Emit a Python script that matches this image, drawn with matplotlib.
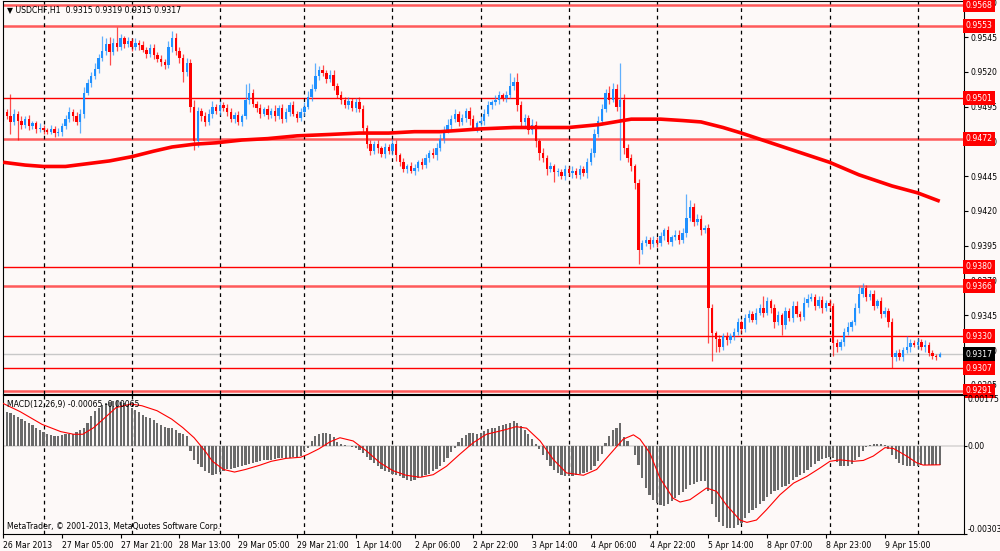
import matplotlib
matplotlib.use("Agg")
import matplotlib.pyplot as plt
import numpy as np

# USDCHF H1 closes, in pips (x 0.0001)
closes_pips = [
    9491,
    9488, 9484, 9490, 9485, 9482, 9486, 9481, 9483, 9479, 9480, 9478,
    9477, 9479, 9476, 9477, 9481, 9486, 9491, 9488, 9484, 9490, 9505, 9512,
    9517, 9522, 9530, 9535, 9540, 9534, 9541, 9538, 9544, 9540, 9542, 9538, 9541, 9539,
    9536, 9533, 9537, 9532, 9529, 9527, 9525, 9538, 9544, 9535, 9530, 9520, 9526,
    9495, 9470, 9492, 9488, 9484, 9490, 9495, 9492, 9496, 9494, 9491,
    9486, 9489, 9484, 9488, 9500, 9505, 9497, 9494, 9490, 9493, 9489,
    9492, 9488, 9494, 9486, 9491, 9496, 9490, 9487, 9491, 9495, 9502, 9508,
    9517, 9521, 9519, 9515, 9518, 9510, 9503, 9500, 9496, 9499, 9494, 9498, 9493,
    9480, 9468, 9463, 9468, 9465, 9461, 9466, 9463, 9468, 9460,
    9455, 9450, 9452, 9449, 9451, 9455, 9453, 9458, 9462, 9460, 9465,
    9472, 9478, 9482, 9486, 9490, 9484, 9487, 9492, 9486, 9480, 9483,
    9485, 9490, 9496, 9498,
    9500, 9503, 9501, 9503, 9510, 9513, 9496, 9484, 9487, 9478, 9482,
    9470, 9462, 9458, 9450, 9452, 9448, 9448, 9445, 9450, 9447, 9449, 9446, 9450,
    9447, 9455, 9462, 9475, 9485, 9493, 9505, 9500, 9508, 9495, 9500, 9465, 9458,
    9452, 9440, 9392, 9397, 9399, 9396, 9399, 9397,
    9402, 9406, 9398, 9401, 9403, 9399, 9404, 9415, 9423, 9412, 9414, 9406, 9408,
    9350, 9332, 9328, 9322, 9330, 9327, 9330, 9333,
    9340, 9335, 9343, 9346, 9342, 9347, 9350, 9347, 9355, 9350, 9340, 9345, 9338,
    9348, 9343, 9352, 9346, 9344, 9354, 9357, 9358, 9352, 9356, 9350, 9354, 9352,
    9325, 9322, 9326, 9333, 9337, 9340, 9350, 9360, 9365, 9358, 9360,
    9352, 9355, 9346, 9348, 9340, 9315, 9318, 9315, 9320,
    9322, 9325, 9324, 9326, 9322, 9324, 9318, 9316, 9315, 9317,
]
first_open_pips = 9488

# upper / lower shadows, in pips
wick_up = [
    3, 2, 16, 3, 2, 3, 2, 3, 2, 2, 3, 2, 2, 3, 2, 3,
    2, 3, 4, 2, 3, 3, 4, 3, 3, 4, 3, 11, 4, 5, 3, 11,
    3, 2, 3, 2, 3, 2, 3, 2, 3, 3, 2, 3, 2, 4, 5, 4,
    3, 3, 4, 3, 5, 3, 2, 3, 3, 4, 2, 3, 2, 3, 3, 2,
    3, 2, 11, 7, 3, 2, 3, 2, 3, 2, 4, 2, 3, 3, 2, 3,
    2, 3, 3, 4, 3, 9, 3, 4, 2, 3, 3, 2, 3, 2, 3, 2,
    3, 4, 3, 2, 3, 2, 3, 2, 3, 2, 4, 3, 2, 3, 2, 3,
    3, 2, 3, 3, 2, 3, 4, 3, 3, 4, 3, 3, 2, 3, 2, 3,
    3, 2, 3, 3, 3, 2, 3, 3, 2, 3, 9, 3, 6, 3, 3, 2,
    4, 3, 2, 3, 2, 3, 2, 3, 2, 3, 2, 3, 2, 3, 2, 3,
    3, 4, 3, 4, 3, 5, 4, 3, 26, 4, 3, 3, 2, 3, 2, 3,
    2, 3, 2, 3, 2, 3, 2, 3, 3, 4, 17, 5, 3, 4, 3, 2,
    3, 3, 2, 3, 2, 3, 2, 3, 3, 2, 3, 3, 2, 3, 3, 9,
    3, 2, 3, 3, 2, 3, 2, 3, 3, 2, 4, 3, 3, 2, 3, 3,
    2, 3, 2, 3, 2, 3, 3, 2, 4, 6, 3, 2, 3, 3, 2, 3,
    3, 2, 3, 2, 3, 2, 8, 3, 2, 3, 2, 3, 2, 2, 1, 2,
]
wick_dn = [
    3, 2, 9, 2, 14, 3, 2, 3, 2, 3, 2, 3, 2, 2, 3, 2,
    3, 2, 2, 3, 2, 8, 3, 2, 3, 2, 3, 2, 3, 9, 2, 3,
    2, 3, 2, 3, 2, 3, 2, 3, 2, 3, 2, 3, 3, 2, 4, 3,
    4, 7, 3, 4, 6, 4, 3, 3, 2, 3, 2, 3, 2, 3, 2, 3,
    2, 3, 2, 3, 2, 3, 3, 2, 3, 2, 3, 2, 3, 2, 3, 2,
    3, 2, 3, 2, 3, 2, 3, 2, 3, 2, 3, 2, 3, 2, 3, 2,
    3, 2, 4, 3, 3, 2, 3, 2, 3, 2, 3, 4, 3, 2, 3, 2,
    3, 2, 3, 2, 3, 2, 3, 2, 3, 2, 3, 2, 3, 2, 3, 4,
    2, 3, 2, 3, 2, 3, 2, 3, 2, 3, 2, 3, 4, 3, 4, 3,
    3, 4, 5, 3, 4, 2, 7, 3, 2, 3, 2, 3, 2, 3, 2, 3,
    2, 3, 2, 3, 2, 3, 2, 3, 38, 4, 3, 3, 4, 10, 3, 2,
    3, 2, 3, 2, 3, 2, 3, 2, 3, 2, 3, 2, 3, 2, 3, 2,
    25, 20, 9, 3, 2, 3, 2, 3, 2, 3, 2, 3, 2, 3, 2, 3,
    2, 3, 4, 2, 7, 3, 2, 3, 2, 3, 2, 3, 2, 3, 2, 3,
    2, 3, 9, 3, 2, 3, 2, 3, 2, 3, 2, 3, 2, 3, 2, 3,
    2, 3, 8, 3, 2, 3, 2, 3, 2, 3, 2, 3, 2, 2, 2, 0,
]

# MACD(12,26,9) main line (histogram), x 1e-5
macd_hist = [
    122,
    118, 113, 107, 100, 92, 86, 78, 71, 63, 56, 49, 42, 38, 34,
    34, 38, 40, 40, 42, 49, 54, 63, 80, 103, 121, 132, 141, 146,
    150, 153, 153, 150, 146, 141, 132, 123, 115, 107, 100, 95, 88,
    80, 72, 65, 63, 61, 54, 46, 42, 34,
    -18, -47, -62, -73, -85, -93, -99, -96, -90,
    -85, -81, -78, -76, -73, -70, -66, -62, -58, -55, -53, -50, -48, -47,
    -44, -43, -41, -41, -41, -39, -39, -35, -18, -6, 17, 34,
    40, 46, 46, 42, 32, 14, 6, 2, -1, -3,
    -6, -14, -25, -38, -50, -60, -70, -78, -85, -90,
    -95, -100, -105, -110, -116, -120, -118, -112, -106, -101,
    -95, -88, -80, -70, -55, -40, -22, -8, 12, 28,
    38, 44, 46, 42, 46, 52, 58, 60,
    63, 68, 72, 76, 80, 84, 78, 70, 55, 42,
    25, 8, -10, -30, -50, -68, -82, -92, -100, -105,
    -105, -103, -99, -96, -94, -90, -82, -70, -52, -28,
    10, 35, 55, 63, 78, 31, 17, -1, -30, -66,
    -110, -145, -168, -185, -197, -203, -205, -200, -191, -180,
    -170, -160, -148, -136, -130, -124, -120, -122, -156, -200,
    -243, -262, -275, -282, -284, -281, -272, -264, -248, -232,
    -220, -212, -200, -188, -175, -165, -156, -150, -143, -138,
    -130, -118, -108, -100, -92, -82, -72, -62, -52, -44,
    -40, -39, -41, -55, -68, -70, -68, -62, -50, -38,
    -16, -4, 4, 6, 8, 7, 2, -12, -30, -45,
    -58, -66, -68, -68, -68, -68, -67, -67, -66, -65, -65, -65,
]

# signal line, read at points (bar, x 1e-5)
signal_bars = [0, 4.6, 10.6, 15.7, 19.2, 21.7, 24.7, 27.8, 30.8, 34.8, 37.8, 41.9,
               45.9, 48.9, 52, 55, 57, 60, 63, 66, 70, 73, 77, 81, 83, 86, 89,
               91.7, 95.3, 99, 102.6, 106.1, 109.7, 113.6, 117.1, 120.7, 124.3,
               128, 131.6, 136.2, 139.7, 142.5, 146.2, 149.8, 153.4, 158, 161.6,
               165.2, 168.8, 171.6, 173.4, 176.1, 178.8, 182.4, 184.3, 187, 191.5,
               194.2, 196.9, 200.6, 202.5, 205.1, 207.8, 211.5, 215.2, 218.8,
               222.4, 225.1, 227.9, 231.5, 234.2, 236.9, 240.1, 242.4, 246,
               248.7, 250.5, 255]
signal_vals = [146, 118, 74, 49, 40, 40, 63, 98, 132, 144, 138, 121,
               92, 63, 28, -18, -53, -81, -90, -81, -66, -53, -43, -39, -29, -10, 14,
               28, 17, -18, -58, -85, -101, -108, -99, -70, -29,
               11, 40, 54, 66, 61, 17, -47, -93, -101, -81,
               -29, 23, 38, 23, -25, -110, -180, -193, -185, -145,
               -156, -203, -255, -263, -255, -220, -168, -128, -105,
               -76, -53, -48, -53, -50, -35, -6, -9, -35,
               -58, -66, -65]

# moving average (thick red), read at points
ma_bars = [0, 6, 11, 17, 23, 29, 35, 41, 46, 52, 58, 65, 72, 80, 89, 97, 105,
           112, 119, 130, 139, 147, 154, 162, 171, 179, 185, 190, 196, 201,
           209, 217, 225, 233, 242, 249, 255]
ma_pips = [9455, 9453, 9452, 9452, 9454, 9456, 9459, 9463, 9466, 9468, 9469,
           9471, 9472, 9474, 9475, 9476, 9476, 9477, 9477, 9479, 9480, 9480,
           9480, 9482, 9486, 9486, 9485, 9484, 9480, 9476, 9469, 9462, 9455,
           9446, 9438, 9433, 9427]

levels_thin = [0.9501, 0.9380, 0.9330, 0.9307]
levels_thick = [0.9568, 0.9553, 0.9472, 0.9366, 0.9291]
bid = 0.9317

price_ticks = [0.9295, 0.9320, 0.9345, 0.9370, 0.9395, 0.9420, 0.9445,
               0.9470, 0.9495, 0.9520, 0.9545, 0.9570]
time_bars = [0, 16, 32, 48, 64, 80, 96, 112, 128, 144, 160, 176, 192, 208, 224, 240]
time_labels = ["26 Mar 2013", "27 Mar 05:00", "27 Mar 21:00", "28 Mar 13:00",
               "29 Mar 05:00", "29 Mar 21:00", "1 Apr 14:00", "2 Apr 06:00",
               "2 Apr 22:00", "3 Apr 14:00", "4 Apr 06:00", "4 Apr 22:00",
               "5 Apr 14:00", "8 Apr 07:00", "8 Apr 23:00", "9 Apr 15:00"]
day_bars = [11, 35, 59, 82, 106, 130, 154, 178, 201, 225, 249]

BG = "#fdf9f8"
BLUE = "#1e90ff"
RED = "#ff0000"
FS = 5.6

closes = np.array(closes_pips) / 10000
opens = np.r_[first_open_pips / 10000, closes[:-1]]
highs = np.maximum(opens, closes) + np.array(wick_up) / 10000
lows = np.minimum(opens, closes) - np.array(wick_dn) / 10000
idx = np.arange(len(closes))
up = closes >= opens

fig = plt.figure(figsize=(10, 5.51), dpi=100, facecolor=BG)
ax = fig.add_axes([0.003, 157 / 551, 0.961, 393 / 551], facecolor=BG)
ax2 = fig.add_axes([0.003, 17 / 551, 0.961, 139 / 551], facecolor=BG)

# main chart
for lv in levels_thick:
    ax.axhline(lv, color="#ff5a5a", lw=1.8, zorder=1)
for lv in levels_thin:
    ax.axhline(lv, color=RED, lw=1.0, zorder=1)
ax.axhline(bid, color="#c8c8c8", lw=1.0, zorder=1)
for d in day_bars:
    ax.axvline(d, color="black", lw=0.9, ls=(0, (3, 3)), zorder=1.5)

for mask, col in ((up, BLUE), (~up, RED)):
    ax.vlines(idx[mask], lows[mask], highs[mask], color=col, lw=0.9, alpha=0.7, zorder=2)
    body = np.maximum(np.abs(closes - opens)[mask], 0.00004)
    ax.bar(idx[mask], body, bottom=np.minimum(opens, closes)[mask], width=0.65,
           color=col, zorder=2.5)

ax.plot(ma_bars, np.array(ma_pips) / 10000, color=RED, lw=2.6, zorder=3,
        solid_capstyle="butt")

ax.set_xlim(-0.03, 261.6)
ax.set_ylim(0.92885, 0.95709)
ax.set_xticks([])
ax.yaxis.tick_right()
ax.set_yticks(price_ticks)
ax.set_yticklabels([f"{t:.4f}" for t in price_ticks])
ax.tick_params(axis="y", direction="out", length=3, width=0.8, pad=2, labelsize=FS)

for lv in levels_thin + levels_thick:
    ax.text(1.002, lv, f"{lv:.4f}", transform=ax.get_yaxis_transform(), ha="left",
            va="center", color="white", fontsize=FS, clip_on=False, zorder=6,
            bbox=dict(boxstyle="square,pad=0.32", fc=RED, ec="none"))
ax.text(1.002, bid, f"{bid:.4f}", transform=ax.get_yaxis_transform(), ha="left",
        va="center", color="white", fontsize=FS, clip_on=False, zorder=6,
        bbox=dict(boxstyle="square,pad=0.32", fc="black", ec="none"))

ax.text(0.004, 0.988, "\u25bc USDCHF,H1  0.9315 0.9319 0.9315 0.9317",
        transform=ax.transAxes, ha="left", va="top", fontsize=FS, color="black")

# MACD window
ax2.axhline(0, color="#707070", lw=0.3, zorder=0.5)
for d in day_bars:
    ax2.axvline(d, color="black", lw=0.9, ls=(0, (3, 3)), zorder=1.5)
ax2.bar(np.arange(len(macd_hist)), np.array(macd_hist) / 1e5, width=0.6,
        color="#6a6a6a", zorder=2)
ax2.plot(signal_bars, np.array(signal_vals) / 1e5, color=RED, lw=0.8, zorder=3)

ax2.set_xlim(-0.03, 261.6)
ax2.set_ylim(-0.00303, 0.00175)
ax2.yaxis.tick_right()
ax2.set_yticks([0.00175, 0.0, -0.00303])
ax2.set_yticklabels(["0.00175", "0.00", "-0.00303"])
ylabels = ax2.get_yticklabels()
ylabels[0].set_va("top")
ylabels[2].set_va("bottom")
ylabels[2].set_fontsize(4.5)
ax2.tick_params(axis="y", direction="out", length=2, width=0.8, pad=0.5, labelsize=FS)

ax2.set_xticks(time_bars)
ax2.set_xticklabels(time_labels)
for lbl in ax2.get_xticklabels():
    lbl.set_ha("left")
ax2.tick_params(axis="x", direction="out", length=3, width=0.8, pad=2, labelsize=FS)

ax2.text(0.004, 0.965, "MACD(12,26,9) -0.00065 -0.00065", transform=ax2.transAxes,
         ha="left", va="top", fontsize=FS, color="black")
ax2.text(0.004, 0.02, "MetaTrader, \u00a9 2001-2013, MetaQuotes Software Corp.",
         transform=ax2.transAxes, ha="left", va="bottom", fontsize=FS, color="black")

for a in (ax, ax2):
    for s in a.spines.values():
        s.set_color("black")
        s.set_linewidth(0.8)

fig.savefig("out.png", dpi=100, facecolor=BG)
